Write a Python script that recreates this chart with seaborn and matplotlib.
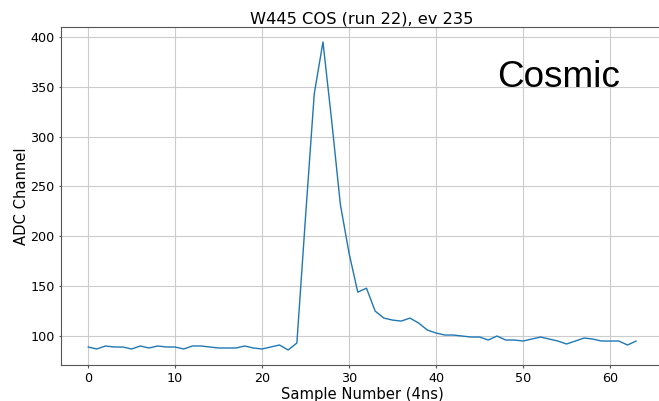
import numpy as np
import pandas as pd
import matplotlib
matplotlib.use("Agg")
import matplotlib.pyplot as plt
import seaborn as sns

samples = list(range(64))
adc = [89, 87, 90, 89, 89, 87, 90, 88, 90, 89,
       89, 87, 90, 90, 89, 88, 88, 88, 90, 88,
       87, 89, 91, 86, 93, 220, 343, 395, 316, 232,
       183, 144, 148, 125, 118, 116, 115, 118, 113, 106,
       103, 101, 101, 100, 99, 99, 96, 100, 96, 96,
       95, 97, 99, 97, 95, 92, 95, 98, 97, 95,
       95, 95, 91, 95]
title = "W445 COS (run 22), ev 235"
xlabel = "Sample Number (4ns)"
ylabel = "ADC Channel"
annotation = "Cosmic"

df = pd.DataFrame({"sample": samples, "adc": adc})

sns.set_style("whitegrid", {"axes.edgecolor": "#555555", "grid.color": "#cccccc",
                            "xtick.bottom": True, "ytick.left": True,
                            "text.color": "black", "axes.labelcolor": "black",
                            "xtick.color": "black", "ytick.color": "black"})
plt.rcParams["font.family"] = ["DejaVu Sans"]

fig = plt.figure(figsize=(6.59, 4.01), dpi=100)
ax = fig.add_axes([0.092, 0.0888, 0.915, 0.845])
sns.lineplot(data=df, x="sample", y="adc", ax=ax, color="#1f77b4", linewidth=1.0)
ax.set_title(title, fontsize=11.7, color="black", pad=1.5)
ax.set_xlabel(xlabel, fontsize=10.6, labelpad=1.8)
ax.set_ylabel(ylabel, fontsize=10.6, labelpad=1.0)
ax.tick_params(labelsize=9.2, length=1.8, pad=2.6)
ax.tick_params(axis="both", colors="#555555", labelcolor="black")
for s in ax.spines.values():
    s.set_color("#555555")
ax.set_xticks([0, 10, 20, 30, 40, 50, 60])
ax.set_yticks([100, 150, 200, 250, 300, 350, 400])
ax.text(0.7237, 0.823, annotation, transform=ax.transAxes, fontsize=26.6,
        family="Liberation Sans", color="black", va="baseline")
fig.savefig("out.png", dpi=100)
